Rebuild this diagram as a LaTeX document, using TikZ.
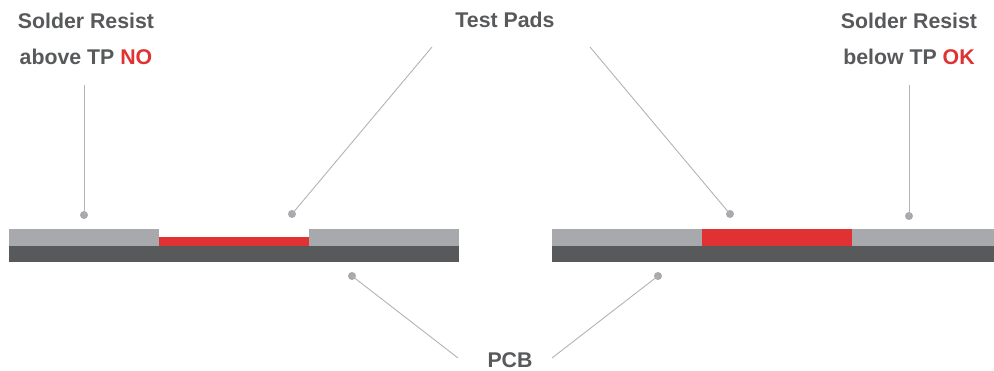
\documentclass[tikz,border=0pt]{standalone}
\usepackage{fontspec}
\setmainfont{Liberation Sans}
\definecolor{txtgray}{HTML}{58595B}
\definecolor{resist}{HTML}{A7A9AC}
\definecolor{board}{HTML}{58595B}
\definecolor{pad}{HTML}{E03133}
\definecolor{leader}{HTML}{B1B3B6}
\begin{document}
\begin{tikzpicture}[x=1pt,y=-1pt,
  label text/.style={text=txtgray,font=\fontsize{21.3}{36}\selectfont\bfseries,anchor=base,inner sep=0pt,align=center},
  leader line/.style={draw=leader,line width=0.9pt},
  pin dot/.style={circle,fill=resist,minimum size=8pt,inner sep=0pt}]
\useasboundingbox (0,0) rectangle (994,371);

% left board: pad recessed below the resist
\fill[board] (9,246) rectangle (459,262);
\fill[resist] (9,229) rectangle (159,246);
\fill[resist] (309,229) rectangle (459,246);
\fill[pad] (159,237) rectangle (309,246);

% right board: pad flush with the resist
\fill[board] (552,246) rectangle (994,262);
\fill[resist] (552,229) rectangle (702,246);
\fill[resist] (852,229) rectangle (994,246);
\fill[pad] (702,229) rectangle (852,246);

% labels (base anchor sits on the last line's baseline)
\node[label text] (srL) at (86,65) {Solder Resist\\above TP \textcolor{pad}{NO}};
\node[label text] (srR) at (909,65) {Solder Resist\\below TP \textcolor{pad}{OK}};
\node[label text] (tp) at (505,28) {Test Pads};
\node[label text] (pcb) at (510,368) {PCB};

% leader start points
\coordinate (srLs) at (84,85);
\coordinate (srRs) at (909,85);
\coordinate (tpL) at (432,47);
\coordinate (tpR) at (590,47);
\coordinate (pcbL) at (458,358);
\coordinate (pcbR) at (552,358);

% pin dots
\node[pin dot] (dL1) at (84,215) {};
\node[pin dot] (dL2) at (292,214) {};
\node[pin dot] (dR1) at (730,214) {};
\node[pin dot] (dR2) at (909,216) {};
\node[pin dot] (dP1) at (352,276) {};
\node[pin dot] (dP2) at (658,276) {};

% leader lines
\draw[leader line] (srLs) -- (dL1.center);
\draw[leader line] (srRs) -- (dR2.center);
\draw[leader line] (tpL) -- (dL2.center);
\draw[leader line] (tpR) -- (dR1.center);
\draw[leader line] (pcbL) -- (dP1.center);
\draw[leader line] (pcbR) -- (dP2.center);
\end{tikzpicture}
\end{document}
